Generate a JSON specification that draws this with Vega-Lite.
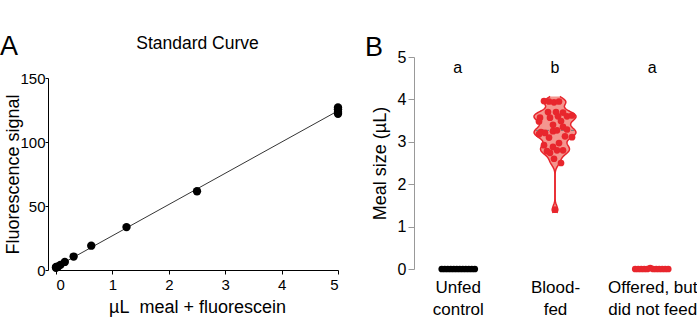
{
  "$schema": "https://vega.github.io/schema/vega-lite/v6.json",
  "padding": {"left": 0, "top": 33, "right": 0, "bottom": 0},
  "background": "white",
  "config": {
    "font": "Liberation Sans",
    "view": {"stroke": null},
    "axis": {"grid": false, "labelFont": "Liberation Sans", "titleFont": "Liberation Sans", "labelColor": "#000", "titleColor": "#000", "titleFontWeight": "normal", "domainColor": "#000", "tickColor": "#000"},
    "title": {"fontWeight": "normal", "color": "#000", "font": "Liberation Sans"}
  },
  "datasets": {
    "curve": [
      {"ul": 0, "signal": 1.8},
      {"ul": 0, "signal": 2.3},
      {"ul": 0.039, "signal": 2.8},
      {"ul": 0.078, "signal": 4.0},
      {"ul": 0.156, "signal": 6.3},
      {"ul": 0.3125, "signal": 10.5},
      {"ul": 0.625, "signal": 19},
      {"ul": 1.25, "signal": 33.5},
      {"ul": 2.5, "signal": 61.5},
      {"ul": 5, "signal": 122},
      {"ul": 5, "signal": 123.5},
      {"ul": 5, "signal": 125.5},
      {"ul": 5, "signal": 127}
    ],
    "meal": [
      {"group": "Unfed control", "value": 0, "jitter": -0.8},
      {"group": "Unfed control", "value": 0, "jitter": -0.65},
      {"group": "Unfed control", "value": 0, "jitter": -0.5},
      {"group": "Unfed control", "value": 0, "jitter": -0.35},
      {"group": "Unfed control", "value": 0, "jitter": -0.2},
      {"group": "Unfed control", "value": 0, "jitter": -0.05},
      {"group": "Unfed control", "value": 0, "jitter": 0.1},
      {"group": "Unfed control", "value": 0, "jitter": 0.25},
      {"group": "Unfed control", "value": 0, "jitter": 0.4},
      {"group": "Unfed control", "value": 0, "jitter": 0.55},
      {"group": "Unfed control", "value": 0, "jitter": 0.7},
      {"group": "Unfed control", "value": 0, "jitter": 0.85},
      {"group": "Blood-fed", "value": 3.96, "jitter": -0.55},
      {"group": "Blood-fed", "value": 3.95, "jitter": -0.3},
      {"group": "Blood-fed", "value": 3.93, "jitter": -0.05},
      {"group": "Blood-fed", "value": 3.95, "jitter": 0.2},
      {"group": "Blood-fed", "value": 3.70, "jitter": -0.35},
      {"group": "Blood-fed", "value": 3.70, "jitter": 0.05},
      {"group": "Blood-fed", "value": 3.69, "jitter": 0.4},
      {"group": "Blood-fed", "value": 3.57, "jitter": -0.75},
      {"group": "Blood-fed", "value": 3.48, "jitter": -0.8},
      {"group": "Blood-fed", "value": 3.57, "jitter": -0.25},
      {"group": "Blood-fed", "value": 3.60, "jitter": 0.15},
      {"group": "Blood-fed", "value": 3.60, "jitter": 0.6},
      {"group": "Blood-fed", "value": 3.62, "jitter": 0.85},
      {"group": "Blood-fed", "value": 3.49, "jitter": 0.3},
      {"group": "Blood-fed", "value": 3.40, "jitter": -0.1},
      {"group": "Blood-fed", "value": 3.35, "jitter": 0.4},
      {"group": "Blood-fed", "value": 3.23, "jitter": -0.7},
      {"group": "Blood-fed", "value": 3.21, "jitter": -0.5},
      {"group": "Blood-fed", "value": 3.25, "jitter": -0.1},
      {"group": "Blood-fed", "value": 3.27, "jitter": 0.1},
      {"group": "Blood-fed", "value": 3.29, "jitter": 0.6},
      {"group": "Blood-fed", "value": 3.18, "jitter": -0.8},
      {"group": "Blood-fed", "value": 3.10, "jitter": -0.3},
      {"group": "Blood-fed", "value": 3.13, "jitter": 0.5},
      {"group": "Blood-fed", "value": 3.11, "jitter": 0.85},
      {"group": "Blood-fed", "value": 2.97, "jitter": 0.2},
      {"group": "Blood-fed", "value": 2.92, "jitter": -0.55},
      {"group": "Blood-fed", "value": 2.88, "jitter": -0.1},
      {"group": "Blood-fed", "value": 2.80, "jitter": 0.1},
      {"group": "Blood-fed", "value": 2.78, "jitter": -0.4},
      {"group": "Blood-fed", "value": 2.80, "jitter": 0.4},
      {"group": "Blood-fed", "value": 2.74, "jitter": -0.25},
      {"group": "Blood-fed", "value": 2.60, "jitter": -0.05},
      {"group": "Blood-fed", "value": 2.50, "jitter": 0.3},
      {"group": "Blood-fed", "value": 1.40, "jitter": 0.0},
      {"group": "Offered, but did not feed", "value": 0, "jitter": -0.85},
      {"group": "Offered, but did not feed", "value": 0, "jitter": -0.7},
      {"group": "Offered, but did not feed", "value": 0, "jitter": -0.55},
      {"group": "Offered, but did not feed", "value": 0, "jitter": -0.4},
      {"group": "Offered, but did not feed", "value": 0, "jitter": -0.25},
      {"group": "Offered, but did not feed", "value": 0.02, "jitter": -0.1},
      {"group": "Offered, but did not feed", "value": 0, "jitter": 0.05},
      {"group": "Offered, but did not feed", "value": 0, "jitter": 0.2},
      {"group": "Offered, but did not feed", "value": 0, "jitter": 0.35},
      {"group": "Offered, but did not feed", "value": 0, "jitter": 0.5},
      {"group": "Offered, but did not feed", "value": 0, "jitter": 0.65},
      {"group": "Offered, but did not feed", "value": 0, "jitter": 0.8}
    ],
    "letters": [
      {"group": "Unfed control", "letter": "a"},
      {"group": "Blood-fed", "letter": "b"},
      {"group": "Offered, but did not feed", "letter": "a"}
    ]
  },
  "spacing": 22,
  "columns": 2,
  "align": "none",
  "concat": [
    {
      "width": 282,
      "height": 213,
      "title": {"text": "A", "anchor": "start", "frame": "group", "dx": -56, "fontSize": 27, "offset": -27},
      "data": {"name": "curve"},
      "layer": [
        {
          "transform": [{"regression": "signal", "on": "ul"}],
          "mark": {"type": "line", "color": "#000", "strokeWidth": 0.8},
          "encoding": {
            "x": {"field": "ul", "type": "quantitative", "scale": {"domain": [0, 5], "nice": false},
                  "axis": {"orient": "top", "title": "Standard Curve", "labels": false, "ticks": false, "domain": false, "titleFontSize": 17.5, "titlePadding": 5}},
            "y": {"field": "signal", "type": "quantitative", "scale": {"domain": [0, 150], "nice": false, "range": [213, 21]}}
          }
        },
        {
          "mark": {"type": "circle", "color": "#000", "size": 70, "opacity": 1},
          "encoding": {
            "x": {"field": "ul", "type": "quantitative",
                  "axis": {"orient": "bottom", "title": "µL\u00a0 meal + fluorescein", "values": [0, 1, 2, 3, 4, 5], "format": "d", "tickSize": 4, "labelFontSize": 15, "titleFontSize": 18, "titlePadding": 6, "labelPadding": 3}},
            "y": {"field": "signal", "type": "quantitative",
                  "axis": {"title": "Fluorescence signal", "values": [0, 50, 100, 150], "offset": 8, "tickSize": 3, "labelPadding": 0, "labelFontSize": 15, "titleFontSize": 18, "titlePadding": -3, "titleY": 117}}
          }
        }
      ],
      "resolve": {"axis": {"x": "independent"}}
    },
    {
      "width": 282,
      "height": 212,
      "title": {"text": "B", "anchor": "start", "frame": "group", "dx": -49, "fontSize": 27, "offset": -13},
      "layer": [
        {
          "data": {"name": "meal"},
          "transform": [
            {"filter": "datum.group === 'Blood-fed'"},
            {"density": "value", "bandwidth": 0.1, "extent": [1.32, 4.07], "steps": 200}
          ],
          "layer": [
            {
              "mark": {"type": "area", "orient": "horizontal", "color": "#f4968f", "opacity": 1},
              "encoding": {
                "x": {"field": "density", "type": "quantitative", "scale": {"range": [141, 162], "nice": false, "zero": true}, "axis": null},
                "y": {"field": "value", "type": "quantitative"}
              }
            },
            {
              "mark": {"type": "line", "color": "#e8262d", "strokeWidth": 1.5},
              "encoding": {
                "x": {"field": "density", "type": "quantitative"},
                "y": {"field": "value", "type": "quantitative"},
                "order": {"field": "value", "type": "quantitative"}
              }
            }
          ]
        },
        {
          "data": {"name": "meal"},
          "transform": [
            {"filter": "datum.group === 'Blood-fed'"},
            {"density": "value", "bandwidth": 0.1, "extent": [1.32, 4.07], "steps": 200}
          ],
          "layer": [
            {
              "mark": {"type": "area", "orient": "horizontal", "color": "#f4968f", "opacity": 1},
              "encoding": {
                "x": {"field": "density", "type": "quantitative", "scale": {"range": [141, 120], "nice": false, "zero": true}, "axis": null},
                "y": {"field": "value", "type": "quantitative"}
              }
            },
            {
              "mark": {"type": "line", "color": "#e8262d", "strokeWidth": 1.5},
              "encoding": {
                "x": {"field": "density", "type": "quantitative"},
                "y": {"field": "value", "type": "quantitative"},
                "order": {"field": "value", "type": "quantitative"}
              }
            }
          ]
        },
        {
          "layer": [
            {
              "data": {"name": "meal"},
              "transform": [
                {"filter": "datum.group === 'Blood-fed'"},
                {"aggregate": [{"op": "median", "field": "value", "as": "median"}], "groupby": ["group"]}
              ],
              "mark": {"type": "rule", "color": "#777", "strokeDash": [3, 2], "strokeWidth": 1, "xOffset": -19, "x2Offset": 19},
              "encoding": {
                "x": {"field": "group", "type": "nominal"},
                "x2": {"field": "group"},
                "y": {"field": "median", "type": "quantitative"}
              }
            },
            {
              "data": {"name": "meal"},
              "mark": {"type": "circle", "opacity": 1, "size": 45},
              "encoding": {
                "x": {"field": "group", "type": "nominal",
                      "scale": {"type": "point", "domain": ["Unfed control", "Blood-fed", "Offered, but did not feed"], "padding": 0.45},
                      "axis": {"orient": "bottom", "title": null, "domain": false, "ticks": false, "labelFontSize": 17, "labelPadding": 10, "labelAngle": 0, "labelAlign": "center", "labelLineHeight": 22, "labelBaseline": "top",
                               "labelExpr": "datum.value == 'Unfed control' ? ['Unfed', 'control'] : datum.value == 'Blood-fed' ? ['Blood-', 'fed'] : ['Offered, but', 'did not feed']"}},
                "xOffset": {"field": "jitter", "type": "quantitative", "scale": {"domain": [-1, 1], "range": [-20, 20]}},
                "y": {"field": "value", "type": "quantitative", "scale": {"domain": [0, 5], "nice": false},
                      "axis": {"title": "Meal size (µL)", "values": [0, 1, 2, 3, 4, 5], "domainColor": "#999", "tickColor": "#999", "tickSize": 6, "labelFontSize": 16, "titleFontSize": 18, "titlePadding": 8}},
                "color": {"field": "group", "type": "nominal", "scale": {"domain": ["Unfed control", "Blood-fed", "Offered, but did not feed"], "range": ["#000000", "#e8262d", "#e8262d"]}, "legend": null}
              }
            },
            {
              "data": {"name": "letters"},
              "mark": {"type": "text", "fontSize": 16, "color": "#000"},
              "encoding": {
                "x": {"field": "group", "type": "nominal"},
                "y": {"datum": 4.75, "type": "quantitative"},
                "text": {"field": "letter"}
              }
            }
          ]
        }
      ],
      "resolve": {"scale": {"x": "independent"}}
    }
  ]
}
